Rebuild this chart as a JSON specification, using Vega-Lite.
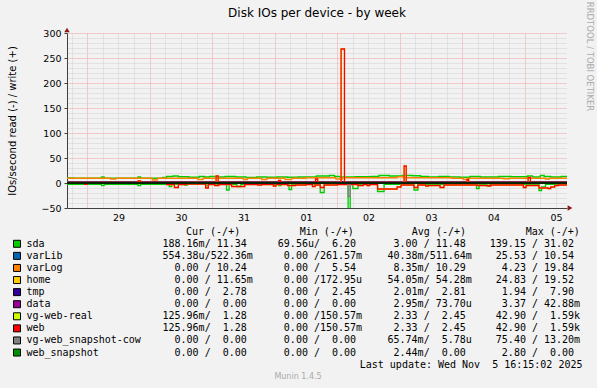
{
  "$schema": "https://vega.github.io/schema/vega-lite/v6.json",
  "width": 500,
  "height": 175,
  "autosize": {"type": "none"},
  "padding": {"left": 67, "top": 33, "right": 30, "bottom": 180},
  "background": "#f2f2f2",
  "config": {
    "view": {"stroke": null},
    "font": "DejaVu Sans",
    "axis": {"labelFont": "DejaVu Sans", "labelFontSize": 9.5, "labelColor": "#000000", "titleFont": "DejaVu Sans", "titleFontWeight": "normal", "titleColor": "#000000", "domainColor": "#404040", "tickColor": "#404040"}
  },
  "title": {"text": "Disk IOs per device - by week", "font": "DejaVu Sans", "fontSize": 12, "fontWeight": "normal", "color": "#000000", "anchor": "middle", "frame": "group", "offset": 14, "dy": 33},
  "datasets": {
    "sdaW": [{"h":-7.75,"v":10},{"h":-5,"v":9.5},{"h":5.5,"v":12},{"h":6.5,"v":9.5},{"h":19.5,"v":12},{"h":20.5,"v":9.5},{"h":29,"v":11},{"h":30.5,"v":13},{"h":33,"v":14},{"h":35,"v":12.5},{"h":39,"v":11.5},{"h":43,"v":13},{"h":45,"v":12},{"h":47,"v":13},{"h":50,"v":12},{"h":53,"v":13},{"h":57,"v":12},{"h":61,"v":11},{"h":65,"v":12},{"h":69,"v":11.5},{"h":73,"v":12},{"h":77,"v":11.5},{"h":81,"v":12},{"h":88,"v":14},{"h":93,"v":15},{"h":95,"v":13},{"h":97,"v":12},{"h":103,"v":12.5},{"h":109,"v":13},{"h":112,"v":15},{"h":116,"v":14},{"h":121,"v":15},{"h":125,"v":14.5},{"h":128,"v":13},{"h":131,"v":12},{"h":135,"v":13},{"h":139,"v":12},{"h":143,"v":11.5},{"h":147,"v":13},{"h":151,"v":12},{"h":158,"v":13},{"h":163,"v":12.5},{"h":169,"v":14},{"h":171,"v":12},{"h":174,"v":15},{"h":175.5,"v":13},{"h":178,"v":12},{"h":182,"v":13},{"h":184.25,"v":13}],
    "sdaR": [{"h":-7.75,"v":-2.5},{"h":5.5,"v":-5},{"h":6.5,"v":-2.5},{"h":19.5,"v":-5},{"h":20.5,"v":-2.5},{"h":31.5,"v":-7},{"h":32.5,"v":-2.5},{"h":37.5,"v":-4},{"h":38.5,"v":-2.5},{"h":45.5,"v":-5},{"h":46.5,"v":-2.5},{"h":53.5,"v":-14},{"h":54.5,"v":-2.5},{"h":57.5,"v":-7},{"h":59,"v":-2.5},{"h":73.5,"v":-5},{"h":74.5,"v":-2.5},{"h":77.5,"v":-13},{"h":78.5,"v":-2.5},{"h":89.5,"v":-19},{"h":91,"v":-2.5},{"h":100.2,"v":-139},{"h":101,"v":-2.5},{"h":102,"v":-11},{"h":104,"v":-2.5},{"h":111.5,"v":-17},{"h":114,"v":-2.5},{"h":125.5,"v":-14},{"h":127,"v":-2.5},{"h":149.5,"v":-11},{"h":150.5,"v":-2.5},{"h":153.5,"v":-6},{"h":154.5,"v":-2.5},{"h":173.5,"v":-15},{"h":174.5,"v":-8},{"h":176,"v":-2.5},{"h":184.25,"v":-2.5}],
    "logW": [{"h":-7.75,"v":9.5},{"h":9,"v":8},{"h":11,"v":9.5},{"h":25,"v":6},{"h":27,"v":9.5},{"h":42.5,"v":7},{"h":44.5,"v":9.5},{"h":60,"v":7},{"h":61.5,"v":9.5},{"h":67,"v":7},{"h":69,"v":9.5},{"h":76,"v":7},{"h":78.5,"v":9.5},{"h":84,"v":10.5},{"h":95.5,"v":8},{"h":98,"v":10.5},{"h":119,"v":12.5},{"h":121.5,"v":10.5},{"h":140,"v":9.5},{"h":144.5,"v":7},{"h":146,"v":9.5},{"h":160,"v":8.5},{"h":162,"v":9.5},{"h":176,"v":8},{"h":177.5,"v":9.5},{"h":184.25,"v":9.5}],
    "webW": [{"h":-7.75,"v":1.3},{"h":19.5,"v":4},{"h":20.5,"v":1.3},{"h":49.5,"v":14},{"h":50.3,"v":1.3},{"h":73.5,"v":5},{"h":74.3,"v":1.3},{"h":87.7,"v":8},{"h":88.5,"v":1.3},{"h":97.5,"v":268},{"h":98.8,"v":1.3},{"h":121.7,"v":34},{"h":122.5,"v":1.3},{"h":145.8,"v":7},{"h":146.5,"v":1.3},{"h":169.3,"v":11},{"h":170.2,"v":1.3},{"h":184.25,"v":1.3}],
    "webR": [{"h":-7.75,"v":-0.3},{"h":-1,"v":-2.7},{"h":0,"v":-0.3},{"h":30.5,"v":-3},{"h":33.5,"v":-9},{"h":35,"v":-3},{"h":38,"v":-2},{"h":45.5,"v":-10},{"h":46.5,"v":-3},{"h":49,"v":-5},{"h":50.5,"v":-3},{"h":55.5,"v":-7},{"h":60.5,"v":-3},{"h":65.5,"v":-4},{"h":67,"v":-3},{"h":71.5,"v":-6},{"h":72.5,"v":-3},{"h":77,"v":-5},{"h":80,"v":-4},{"h":84,"v":-3},{"h":86.5,"v":-7},{"h":87.5,"v":-4},{"h":89.5,"v":-9},{"h":91,"v":-4},{"h":96,"v":-3},{"h":104,"v":-5},{"h":106,"v":-3},{"h":107.5,"v":-5},{"h":108.5,"v":-3},{"h":111.5,"v":-12},{"h":119,"v":-8},{"h":120.5,"v":-4},{"h":125.5,"v":-9},{"h":127,"v":-4},{"h":130,"v":-6},{"h":131,"v":-5},{"h":135.5,"v":-9},{"h":137,"v":-4},{"h":150,"v":-5},{"h":154,"v":-6},{"h":155,"v":-4},{"h":167.5,"v":-9},{"h":168.5,"v":-5},{"h":173.5,"v":-10},{"h":177,"v":-11},{"h":178,"v":-8},{"h":179.5,"v":-5},{"h":181,"v":-4},{"h":184.25,"v":-4}],
    "cowR": [{"h":-7.75,"v":0},{"h":100.2,"v":-27},{"h":101,"v":0},{"h":184.25,"v":0}],
    "libW": [{"h":-7.75,"v":0.5},{"h":184.25,"v":0.5}],
    "homeW": [{"h":-7.75,"v":0.05},{"h":184.25,"v":0.05}],
    "tmpW": [{"h":-7.75,"v":2.8},{"h":184.25,"v":2.8}],
    "dataW": [{"h":-7.75,"v":0},{"h":184.25,"v":0}],
    "snapW": [{"h":-7.75,"v":0},{"h":184.25,"v":0}],
    "legend": [
      {"r":0,"name":"sda","cur":"188.16m/\u00a011.34","min":"\u200b\u00a069.56u/\u00a0\u00a06.20","avg":"\u200b\u00a0\u00a03.00\u00a0/\u00a011.48","max":"139.15\u00a0/\u00a031.02"},
      {"r":1,"name":"varLib","cur":"554.38u/522.36m","min":"\u200b\u00a0\u00a00.00\u00a0/261.57m","avg":"\u200b\u00a040.38m/511.64m","max":"\u200b\u00a025.53\u00a0/\u00a010.54"},
      {"r":2,"name":"varLog","cur":"\u200b\u00a0\u00a00.00\u00a0/\u00a010.24","min":"\u200b\u00a0\u00a00.00\u00a0/\u00a0\u00a05.54","avg":"\u200b\u00a0\u00a08.35m/\u00a010.29","max":"\u200b\u00a0\u00a04.23\u00a0/\u00a019.84"},
      {"r":3,"name":"home","cur":"\u200b\u00a0\u00a00.00\u00a0/\u00a011.65m","min":"\u200b\u00a0\u00a00.00\u00a0/172.95u","avg":"\u200b\u00a054.05m/\u00a054.28m","max":"\u200b\u00a024.83\u00a0/\u00a019.52"},
      {"r":4,"name":"tmp","cur":"\u200b\u00a0\u00a00.00\u00a0/\u00a0\u00a02.78","min":"\u200b\u00a0\u00a00.00\u00a0/\u00a0\u00a02.45","avg":"\u200b\u00a0\u00a02.01m/\u00a0\u00a02.81","max":"\u200b\u00a0\u00a01.94\u00a0/\u00a0\u00a07.90"},
      {"r":5,"name":"data","cur":"\u200b\u00a0\u00a00.00\u00a0/\u00a0\u00a00.00","min":"\u200b\u00a0\u00a00.00\u00a0/\u00a0\u00a00.00","avg":"\u200b\u00a0\u00a02.95m/\u00a073.70u","max":"\u200b\u00a0\u00a03.37\u00a0/\u00a042.88m"},
      {"r":6,"name":"vg-web-real","cur":"125.96m/\u00a0\u00a01.28","min":"\u200b\u00a0\u00a00.00\u00a0/150.57m","avg":"\u200b\u00a0\u00a02.33\u00a0/\u00a0\u00a02.45","max":"\u200b\u00a042.90\u00a0/\u00a0\u00a01.59k"},
      {"r":7,"name":"web","cur":"125.96m/\u00a0\u00a01.28","min":"\u200b\u00a0\u00a00.00\u00a0/150.57m","avg":"\u200b\u00a0\u00a02.33\u00a0/\u00a0\u00a02.45","max":"\u200b\u00a042.90\u00a0/\u00a0\u00a01.59k"},
      {"r":8,"name":"vg-web_snapshot-cow","cur":"\u200b\u00a0\u00a00.00\u00a0/\u00a0\u00a00.00","min":"\u200b\u00a0\u00a00.00\u00a0/\u00a0\u00a00.00","avg":"\u200b\u00a065.74m/\u00a0\u00a05.78u","max":"\u200b\u00a075.40\u00a0/\u00a013.20m"},
      {"r":9,"name":"web_snapshot","cur":"\u200b\u00a0\u00a00.00\u00a0/\u00a0\u00a00.00","min":"\u200b\u00a0\u00a00.00\u00a0/\u00a0\u00a00.00","avg":"\u200b\u00a0\u00a02.44m/\u00a0\u00a00.00","max":"\u200b\u00a0\u00a02.80\u00a0/\u00a0\u00a00.00"}
    ],
    "head": [{"r":-1,"c":3,"s":"Cur (-/+)"},{"r":-1,"c":6,"s":"Min (-/+)"},{"r":-1,"c":8,"s":"Avg (-/+)"},{"r":-1,"c":10,"s":"Max (-/+)"}],
    "upd": [{"r":10,"c":11,"s":"Last update: Wed Nov \u00a05 16:15:02 2025"}],
    "foot": [{"r":11,"c":5,"s":"Munin 1.4.5"}]
  },
  "layer": [
    {
      "layer": [
        {"data":{"name":"sdaW"},"mark":{"type":"line","interpolate":"step-after","strokeWidth":1.3,"clip":true,"color":"#00CC00"},
         "encoding":{
           "x":{"field":"h","type":"quantitative","scale":{"domain":[-7.75,184.25],"nice":false,"zero":false},
                "axis":{"orient":"bottom","values":[-6,6,12,18,30,36,42,54,60,66,78,84,90,102,108,114,126,132,138,150,156,162,174,180],"grid":true,"gridColor":"#d0d0d0","gridDash":[1,1],"gridWidth":1,"labels":false,"ticks":false,"domain":false,"title":null}},
           "y":{"field":"v","type":"quantitative","scale":{"domain":[-50,300],"nice":false,"zero":false},
                "axis":{"orient":"left","values":[-40,-30,-20,-10,10,20,30,40,60,70,80,90,110,120,130,140,160,170,180,190,210,220,230,240,260,270,280,290],"grid":true,"gridColor":"#d0d0d0","gridDash":[1,1],"gridWidth":1,"labels":false,"ticks":false,"domain":false,"title":null}}}},
        {"data":{"name":"sdaR"},"mark":{"type":"line","interpolate":"step-after","strokeWidth":1.3,"clip":true,"color":"#00CC00"},
         "encoding":{
           "x":{"field":"h","type":"quantitative","scale":{"domain":[-7.75,184.25],"nice":false,"zero":false},
                "axis":{"orient":"bottom","values":[0,24,48,72,96,120,144,168],"grid":true,"gridColor":"#f0a0a0","gridDash":[1,1],"gridWidth":1,"labels":false,"ticks":false,"domain":false,"title":null}},
           "y":{"field":"v","type":"quantitative","scale":{"domain":[-50,300],"nice":false,"zero":false},
                "axis":{"orient":"left","values":[-50,0,50,100,150,200,250,300],"grid":true,"gridColor":"#f0a0a0","gridDash":[1,1],"gridWidth":1,"labels":true,"labelPadding":3,"ticks":true,"tickSize":3,"domain":true,"title":"IOs/second read (-) / write (+)","titleFontSize":10,"titleX":-55,"titleY":87.5,"titleAngle":270,"titleAlign":"center","titleBaseline":"middle"}}}},
        {"data":{"name":"libW"},"mark":{"type":"line","interpolate":"step-after","strokeWidth":1.3,"clip":true,"color":"#0066B3"},
         "encoding":{"x":{"field":"h","type":"quantitative","scale":{"domain":[-7.75,184.25],"nice":false,"zero":false},"axis":null},"y":{"field":"v","type":"quantitative","scale":{"domain":[-50,300],"nice":false,"zero":false},"axis":null}}},
        {"data":{"name":"logW"},"mark":{"type":"line","interpolate":"step-after","strokeWidth":1.3,"clip":true,"color":"#FF8000"},
         "encoding":{
           "x":{"field":"h","type":"quantitative","scale":{"domain":[-7.75,184.25],"nice":false,"zero":false},
                "axis":{"orient":"bottom","values":[12,36,60,84,108,132,156,180],"labelExpr":"['29','30','31','01','02','03','04','05'][round((datum.value-12)/24)]","grid":false,"ticks":false,"labelPadding":4,"domain":true,"title":null}},
           "y":{"field":"v","type":"quantitative","scale":{"domain":[-50,300],"nice":false,"zero":false},
                "axis":{"orient":"right","grid":false,"labels":false,"ticks":false,"domain":false,"title":"RRDTOOL / TOBI OETIKER","titleFontSize":8.5,"titleColor":"#aaaaaa","titleX":22,"titleY":23,"titleAngle":90,"titleAlign":"center","titleBaseline":"middle"}}}},
        {"data":{"name":"homeW"},"mark":{"type":"line","interpolate":"step-after","strokeWidth":1.3,"clip":true,"color":"#FFCC00"},
         "encoding":{"x":{"field":"h","type":"quantitative","scale":{"domain":[-7.75,184.25],"nice":false,"zero":false},"axis":null},"y":{"field":"v","type":"quantitative","scale":{"domain":[-50,300],"nice":false,"zero":false},"axis":null}}},
        {"data":{"name":"tmpW"},"mark":{"type":"line","interpolate":"step-after","strokeWidth":1.3,"clip":true,"color":"#330099"},
         "encoding":{"x":{"field":"h","type":"quantitative","scale":{"domain":[-7.75,184.25],"nice":false,"zero":false},"axis":null},"y":{"field":"v","type":"quantitative","scale":{"domain":[-50,300],"nice":false,"zero":false},"axis":null}}},
        {"data":{"name":"dataW"},"mark":{"type":"line","interpolate":"step-after","strokeWidth":1.3,"clip":true,"color":"#990099"},
         "encoding":{"x":{"field":"h","type":"quantitative","scale":{"domain":[-7.75,184.25],"nice":false,"zero":false},"axis":null},"y":{"field":"v","type":"quantitative","scale":{"domain":[-50,300],"nice":false,"zero":false},"axis":null}}},
        {"data":{"name":"webW"},"mark":{"type":"line","interpolate":"step-after","strokeWidth":1.3,"clip":true,"color":"#CCFF00"},
         "encoding":{"x":{"field":"h","type":"quantitative","scale":{"domain":[-7.75,184.25],"nice":false,"zero":false},"axis":null},"y":{"field":"v","type":"quantitative","scale":{"domain":[-50,300],"nice":false,"zero":false},"axis":null}}},
        {"data":{"name":"webR"},"mark":{"type":"line","interpolate":"step-after","strokeWidth":1.3,"clip":true,"color":"#CCFF00"},
         "encoding":{"x":{"field":"h","type":"quantitative","scale":{"domain":[-7.75,184.25],"nice":false,"zero":false},"axis":null},"y":{"field":"v","type":"quantitative","scale":{"domain":[-50,300],"nice":false,"zero":false},"axis":null}}},
        {"data":{"name":"webW"},"mark":{"type":"line","interpolate":"step-after","strokeWidth":1.3,"clip":true,"color":"#FF0000"},
         "encoding":{"x":{"field":"h","type":"quantitative","scale":{"domain":[-7.75,184.25],"nice":false,"zero":false},"axis":null},"y":{"field":"v","type":"quantitative","scale":{"domain":[-50,300],"nice":false,"zero":false},"axis":null}}},
        {"data":{"name":"webR"},"mark":{"type":"line","interpolate":"step-after","strokeWidth":1.3,"clip":true,"color":"#FF0000"},
         "encoding":{"x":{"field":"h","type":"quantitative","scale":{"domain":[-7.75,184.25],"nice":false,"zero":false},"axis":null},"y":{"field":"v","type":"quantitative","scale":{"domain":[-50,300],"nice":false,"zero":false},"axis":null}}},
        {"data":{"name":"cowR"},"mark":{"type":"line","interpolate":"step-after","strokeWidth":1.3,"clip":true,"color":"#808080"},
         "encoding":{"x":{"field":"h","type":"quantitative","scale":{"domain":[-7.75,184.25],"nice":false,"zero":false},"axis":null},"y":{"field":"v","type":"quantitative","scale":{"domain":[-50,300],"nice":false,"zero":false},"axis":null}}},
        {"data":{"name":"snapW"},"mark":{"type":"line","interpolate":"step-after","strokeWidth":1.3,"clip":true,"color":"#008F00"},
         "encoding":{"x":{"field":"h","type":"quantitative","scale":{"domain":[-7.75,184.25],"nice":false,"zero":false},"axis":null},"y":{"field":"v","type":"quantitative","scale":{"domain":[-50,300],"nice":false,"zero":false},"axis":null}}},
        {"data":{"values":[{}]},"mark":{"type":"rule","color":"#000000","strokeWidth":1.5},
         "encoding":{"x":{"datum":-7.75,"type":"quantitative","axis":null},"x2":{"datum":184.25},"y":{"datum":0,"type":"quantitative","axis":null}}},
        {"data":{"values":[{}]},"mark":{"type":"point","shape":"triangle-right","filled":true,"color":"#8b1a1a","opacity":1,"size":30,"xOffset":3,"clip":false},
         "encoding":{"x":{"datum":184.25,"type":"quantitative","axis":null},"y":{"datum":-50,"type":"quantitative","axis":null}}},
        {"data":{"values":[{}]},"mark":{"type":"point","shape":"triangle-up","filled":true,"color":"#8b1a1a","opacity":1,"size":30,"yOffset":-3,"clip":false},
         "encoding":{"x":{"datum":-7.75,"type":"quantitative","axis":null},"y":{"datum":300,"type":"quantitative","axis":null}}}
      ],
      "resolve": {"axis": {"x": "independent", "y": "independent"}}
    },
    {
      "encoding": {"y": {"field": "r", "type": "quantitative", "scale": {"domain": [-1, 11], "range": [198.7, 343.7]}, "axis": null}},
      "layer": [
        {"data":{"name":"legend"},"mark":{"type":"point","shape":"square","filled":true,"size":49,"stroke":"#000000","strokeWidth":1,"opacity":1},
         "encoding":{"x":{"datum":0,"type":"quantitative","scale":{"domain":[0,1,2,3,4,5,6,7,8,9,10,11],"range":[-50,-40.5,95.5,119,204.8,231,232.7,314.5,344.8,422.8,458.7,515.5]},"axis":null},
                     "color":{"field":"name","type":"nominal","scale":{"domain":["sda","varLib","varLog","home","tmp","data","vg-web-real","web","vg-web_snapshot-cow","web_snapshot"],"range":["#00CC00","#0066B3","#FF8000","#FFCC00","#330099","#990099","#CCFF00","#FF0000","#808080","#008F00"]},"legend":null}}},
        {"data":{"name":"legend"},"mark":{"type":"text","font":"DejaVu Sans Mono","fontSize":10,"align":"left","baseline":"middle","color":"#000000"},
         "encoding":{"x":{"datum":1,"type":"quantitative","axis":null},"text":{"field":"name"}}},
        {"data":{"name":"legend"},"mark":{"type":"text","font":"DejaVu Sans Mono","fontSize":10,"align":"left","baseline":"middle","color":"#000000"},
         "encoding":{"x":{"datum":2,"type":"quantitative","axis":null},"text":{"field":"cur"}}},
        {"data":{"name":"legend"},"mark":{"type":"text","font":"DejaVu Sans Mono","fontSize":10,"align":"left","baseline":"middle","color":"#000000"},
         "encoding":{"x":{"datum":4,"type":"quantitative","axis":null},"text":{"field":"min"}}},
        {"data":{"name":"legend"},"mark":{"type":"text","font":"DejaVu Sans Mono","fontSize":10,"align":"left","baseline":"middle","color":"#000000"},
         "encoding":{"x":{"datum":7,"type":"quantitative","axis":null},"text":{"field":"avg"}}},
        {"data":{"name":"legend"},"mark":{"type":"text","font":"DejaVu Sans Mono","fontSize":10,"align":"left","baseline":"middle","color":"#000000"},
         "encoding":{"x":{"datum":9,"type":"quantitative","axis":null},"text":{"field":"max"}}},
        {"data":{"name":"head"},"mark":{"type":"text","font":"DejaVu Sans Mono","fontSize":10,"align":"left","baseline":"middle","color":"#000000"},
         "encoding":{"x":{"field":"c","type":"quantitative","axis":null},"text":{"field":"s"}}},
        {"data":{"name":"upd"},"mark":{"type":"text","font":"DejaVu Sans Mono","fontSize":10,"align":"right","baseline":"middle","color":"#000000"},
         "encoding":{"x":{"field":"c","type":"quantitative","axis":null},"text":{"field":"s"}}},
        {"data":{"name":"foot"},"mark":{"type":"text","font":"DejaVu Sans","fontSize":8,"align":"center","baseline":"middle","color":"#aaaaaa"},
         "encoding":{"x":{"field":"c","type":"quantitative","axis":null},"text":{"field":"s"}}}
      ]
    }
  ],
  "resolve": {"scale": {"x": "independent", "y": "independent"}, "axis": {"x": "independent", "y": "independent"}}
}
